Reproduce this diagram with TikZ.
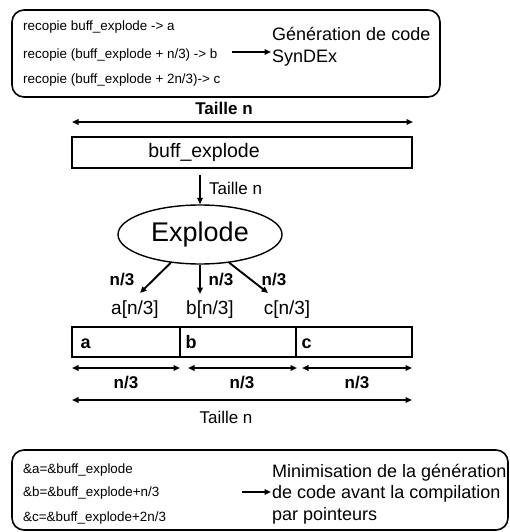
\documentclass[tikz,border=0pt]{standalone}
\usepackage{fontspec}
\setmainfont{Liberation Sans}
\usetikzlibrary{arrows.meta,shapes.geometric}
\newcommand\myfs[1]{\fontsize{#1bp}{1.2\dimexpr #1bp\relax}\selectfont}
\tikzset{
  x=1bp, y=-1bp,
  rbox/.style={draw, line width=1.6bp, rounded corners=12bp, inner sep=0},
  cellbox/.style={draw, line width=1.3bp, inner sep=0, minimum height=30bp},
  txt/.style={inner sep=0, font=\myfs{13.4}},
  big/.style={inner sep=0, font=\myfs{18}},
  lab/.style={inner sep=0, font=\myfs{17}},
  blab/.style={inner sep=0, font=\myfs{17}\bfseries},
  celltxt/.style={inner sep=0, anchor=base west, font=\myfs{18}\bfseries},
  arr/.style={-{Triangle[length=6.5bp,width=5.5bp]}, line width=1.9bp},
  darr/.style={{Triangle[length=6.5bp,width=5.5bp]}-{Triangle[length=6.5bp,width=5.5bp]}, line width=2.3bp},
  sarr/.style={{Triangle[length=6.5bp,width=5.5bp]}-{Triangle[length=6.5bp,width=5.5bp]}, line width=1.8bp},
}
\begin{document}
\begin{tikzpicture}
\useasboundingbox (0,0) rectangle (510,532);

% top box
\node[rbox, minimum width=428bp, minimum height=87bp] (topbox) at (226,53.5) {};
\node[txt, anchor=west] (l1) at (23,27) {recopie buff\_explode -> a};
\node[txt, anchor=west] (l2) at (23,55) {recopie (buff\_explode + n/3) -> b};
\node[txt, anchor=west] (l3) at (23,80) {recopie (buff\_explode + 2n/3)-> c};
\node[big, anchor=west, align=left, inner sep=1bp, font=\fontsize{18bp}{22bp}\selectfont] (gen) at (271,47) {Génération de code\\SynDEx};
\coordinate (g1) at (232,52);
\draw[arr] (g1) -- (gen.west |- g1);

% top size arrow
\node[blab] (tn1) at (224,108) {Taille n};
\coordinate (tl) at (72,122);
\coordinate (tr) at (413,122);
\draw[darr] (tl) -- (tr);

% buffer
\node[cellbox, minimum width=340bp, minimum height=31bp] (buff) at (242,152.5) {};
\node[inner sep=0, font=\myfs{19.5}] (bufft) at (204,152) {buff\_explode};

% ellipse
\node[ellipse, draw, line width=1.4bp, minimum width=164bp, minimum height=59bp, inner sep=0, font=\myfs{27}] (ell) at (200,234.5) {Explode};
\coordinate (d1) at (200,175);
\draw[arr] (d1) -- (ell.north);
\node[lab, anchor=west] (tn2) at (209,188) {Taille n};

% output arrows
\coordinate (ea) at (140,293);
\coordinate (eb) at (200,294);
\coordinate (ec) at (268,293);
\draw[arr] (ell.224) -- (ea);
\draw[arr] (ell.south) -- (eb);
\draw[arr] (ell.316) -- (ec);
\node[blab] (na) at (122,280) {n/3};
\node[blab] (nb) at (221,280) {n/3};
\node[blab] (nc) at (274,280) {n/3};

\node[inner sep=0, font=\myfs{19}] (la) at (135,310) {a[n/3]};
\node[inner sep=0, font=\myfs{19}] (lb) at (210,310) {b[n/3]};
\node[inner sep=0, font=\myfs{19}] (lc) at (287,310) {c[n/3]};

% cells
\node[cellbox, minimum width=108bp] (ca) at (126,342) {};
\node[cellbox, minimum width=116bp] (cb) at (238,342) {};
\node[cellbox, minimum width=116bp] (cc) at (354,342) {};
\node[celltxt] (ta) at ([xshift=9bp,yshift=-6.5bp]ca.west) {a};
\node[celltxt] (tb) at ([xshift=6bp,yshift=-6.5bp]cb.west) {b};
\node[celltxt] (tc) at ([xshift=6bp,yshift=-6.5bp]cc.west) {c};

% small size arrows
\coordinate (s1l) at (72,368);  \coordinate (s1r) at (180,368);
\coordinate (s2l) at (188,368); \coordinate (s2r) at (297,368);
\coordinate (s3l) at (302,368); \coordinate (s3r) at (412,368);
\draw[sarr] (s1l) -- (s1r);
\draw[sarr] (s2l) -- (s2r);
\draw[sarr] (s3l) -- (s3r);
\node[blab] (m1) at (126,383) {n/3};
\node[blab] (m2) at (242,383) {n/3};
\node[blab] (m3) at (357,383) {n/3};

% bottom size arrow
\coordinate (bl) at (72,400);
\coordinate (br) at (412,400);
\draw[darr] (bl) -- (br);
\node[lab] (tn3) at (226,417) {Taille n};

% bottom box
\node[rbox, minimum width=496bp, minimum height=80bp] (botbox) at (260,490) {};
\node[txt, anchor=west] (p1) at (23,470) {\&a=\&buff\_explode};
\node[txt, anchor=west] (p2) at (23,493) {\&b=\&buff\_explode+n/3};
\node[txt, anchor=west] (p3) at (23,518) {\&c=\&buff\_explode+2n/3};
\node[anchor=west, align=left, inner sep=1bp, font=\fontsize{18bp}{21.5bp}\selectfont] (mini) at (271,494) {Minimisation de la génération\\de code avant la compilation\\par pointeurs};
\coordinate (b1) at (242,492);
\draw[arr] (b1) -- (mini.west |- b1);
\end{tikzpicture}
\end{document}
